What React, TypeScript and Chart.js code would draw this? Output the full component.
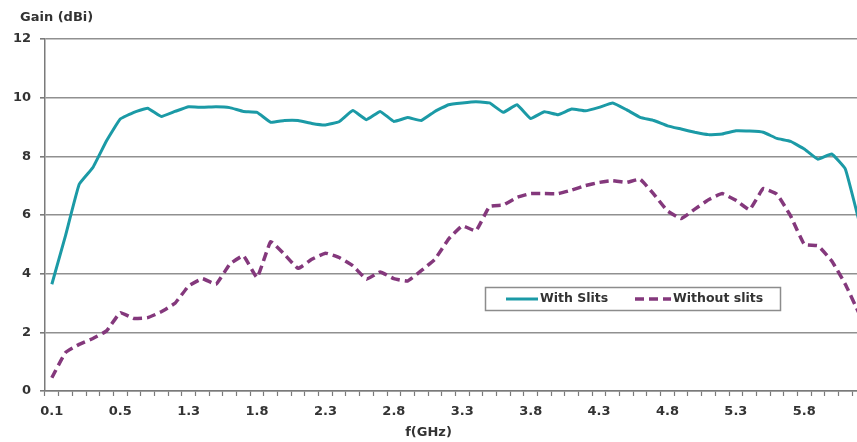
import { useEffect, useRef } from 'react';
import { Chart, registerables } from 'chart.js';

Chart.register(...registerables);

// Measured frequencies (GHz), one per sample
const frequencies = [
  '0.1', '0.2', '0.3', '0.35', '0.4', '0.5', '0.7', '0.9', '1.1', '1.2',
  '1.3', '1.4', '1.5', '1.6', '1.7', '1.8', '1.9', '2.0', '2.1', '2.2',
  '2.3', '2.4', '2.5', '2.6', '2.7', '2.8', '2.9', '3.0', '3.1', '3.2',
  '3.3', '3.4', '3.5', '3.6', '3.7', '3.8', '3.9', '4.0', '4.1', '4.2',
  '4.3', '4.4', '4.5', '4.6', '4.7', '4.8', '4.9', '5.0', '5.1', '5.2',
  '5.3', '5.4', '5.5', '5.6', '5.7', '5.8', '5.9', '6.0', '6.1', '6.2',
];

// Antenna gain (dBi) with slits
const withSlits = [
  3.64, 5.3, 7.05, 7.62, 8.53, 9.27, 9.5, 9.64, 9.36, 9.53,
  9.69, 9.67, 9.69, 9.66, 9.53, 9.5, 9.16, 9.22, 9.22, 9.12,
  9.07, 9.18, 9.56, 9.25, 9.53, 9.19, 9.32, 9.22, 9.53, 9.76,
  9.82, 9.86, 9.82, 9.5, 9.76, 9.29, 9.52, 9.42, 9.61, 9.55,
  9.67, 9.82, 9.59, 9.33, 9.22, 9.04, 8.93, 8.82, 8.74, 8.76,
  8.87, 8.86, 8.82, 8.61, 8.51, 8.25, 7.9, 8.08, 7.57, 5.8,
];

// Antenna gain (dBi) without slits
const withoutSlits = [
  0.45, 1.31, 1.59, 1.79, 2.05, 2.67, 2.47, 2.5, 2.7, 2.99,
  3.58, 3.83, 3.64, 4.32, 4.61, 3.87, 5.09, 4.66, 4.18, 4.49,
  4.7, 4.55, 4.27, 3.81, 4.06, 3.83, 3.75, 4.1, 4.49, 5.18,
  5.63, 5.46, 6.29, 6.34, 6.6, 6.73, 6.73, 6.73, 6.85, 7.0,
  7.11, 7.17, 7.11, 7.22, 6.71, 6.14, 5.88, 6.2, 6.52, 6.73,
  6.5, 6.18, 6.9, 6.71, 5.97, 5.0, 4.95, 4.44, 3.64, 2.65,
];

const seriesNames = ['With Slits', 'Without slits'];
const yAxisTitle = 'Gain (dBi)';
const xAxisTitle = 'f(GHz)';

const FONT = "'DejaVu Sans', Verdana, sans-serif";
const TEXT = '#333333';
const TEAL = '#1b9aa6';
const PURPLE = '#84387c';

// Axis captions: value axis name above the plot, frequency name below it
const captions = {
  id: 'captions',
  afterDraw(chart: any) {
    const ctx = chart.ctx;
    ctx.save();
    ctx.fillStyle = TEXT;
    ctx.font = `bold 13px ${FONT}`;
    ctx.textBaseline = 'middle';
    ctx.textAlign = 'left';
    ctx.fillText(yAxisTitle, 20, 18);
    ctx.textAlign = 'center';
    ctx.fillText(xAxisTitle, 428.5, 432.5);
    ctx.restore();
  },
};

// Boxed legend sitting inside the plot area
const insetLegend = {
  id: 'insetLegend',
  afterDraw(chart: any) {
    const ctx = chart.ctx;
    const box = { x: 485, y: 287, w: 295, h: 23 };
    const slots = [
      { x0: 506, x1: 538, tx: 540 },
      { x0: 635, x1: 671, tx: 673 },
    ];
    ctx.save();
    ctx.fillStyle = '#ffffff';
    ctx.fillRect(box.x, box.y, box.w, box.h);
    ctx.strokeStyle = '#8c8c8c';
    ctx.lineWidth = 1.5;
    ctx.strokeRect(box.x + 0.5, box.y + 0.5, box.w, box.h);
    const cy = box.y + box.h / 2 + 0.5;
    chart.data.datasets.forEach((ds: any, i: number) => {
      const s = slots[i];
      ctx.strokeStyle = ds.borderColor;
      ctx.lineWidth = ds.borderWidth;
      ctx.setLineDash(ds.borderDash || []);
      ctx.beginPath();
      ctx.moveTo(s.x0, cy);
      ctx.lineTo(s.x1, cy);
      ctx.stroke();
      ctx.setLineDash([]);
      ctx.fillStyle = TEXT;
      ctx.font = `bold 12.5px ${FONT}`;
      ctx.textBaseline = 'middle';
      ctx.textAlign = 'left';
      ctx.fillText(ds.label, s.tx, cy);
    });
    ctx.restore();
  },
};

export default function App() {
  const canvasRef = useRef<HTMLCanvasElement>(null);

  useEffect(() => {
    if (!canvasRef.current) return;
    const chart = new Chart(canvasRef.current, {
      type: 'line',
      data: {
        labels: frequencies,
        datasets: [
          {
            label: seriesNames[0],
            data: withSlits,
            borderColor: TEAL,
            borderWidth: 3,
            pointRadius: 0,
            tension: 0.1,
            fill: false,
          },
          {
            label: seriesNames[1],
            data: withoutSlits,
            borderColor: PURPLE,
            borderWidth: 3.5,
            borderDash: [9, 5],
            pointRadius: 0,
            tension: 0.1,
            fill: false,
          },
        ],
      },
      options: {
        animation: false,
        responsive: true,
        maintainAspectRatio: false,
        layout: { padding: { top: 39, right: 0, bottom: 0, left: 0 } },
        plugins: {
          legend: { display: false },
          tooltip: { enabled: false },
          title: { display: false },
        },
        scales: {
          x: {
            type: 'category',
            offset: true,
            afterFit: (s: any) => {
              s.height = 51;
            },
            grid: {
              display: true,
              offset: true,
              drawOnChartArea: false,
              drawTicks: true,
              tickLength: 5,
              tickColor: '#7a7a7a',
              tickWidth: 1.2,
            },
            border: { display: true, color: '#7a7a7a', width: 1.5 },
            ticks: {
              autoSkip: false,
              maxRotation: 0,
              minRotation: 0,
              padding: 8,
              color: TEXT,
              font: { family: FONT, weight: 'bold', size: 13 },
              callback: (_v: any, i: number) => (i % 5 === 0 ? frequencies[i] : ''),
            },
          },
          y: {
            min: 0,
            max: 12,
            afterFit: (s: any) => {
              s.width = 45;
            },
            grid: {
              color: '#909090',
              lineWidth: 1.6,
              drawTicks: true,
              tickLength: 5,
              tickColor: '#7a7a7a',
            },
            border: { display: true, color: '#7a7a7a', width: 1.5 },
            ticks: {
              stepSize: 2,
              padding: 9,
              color: TEXT,
              font: { family: FONT, weight: 'bold', size: 13 },
            },
          },
        },
      },
      plugins: [captions, insetLegend],
    });
    return () => chart.destroy();
  }, []);

  return (
    <div
      style={{
        position: 'fixed',
        left: 0,
        top: 0,
        width: 857,
        height: 442,
        overflow: 'hidden',
        background: '#ffffff',
      }}
    >
      <div style={{ position: 'relative', width: 867, height: 442 }}>
        <canvas ref={canvasRef} />
      </div>
    </div>
  );
}
